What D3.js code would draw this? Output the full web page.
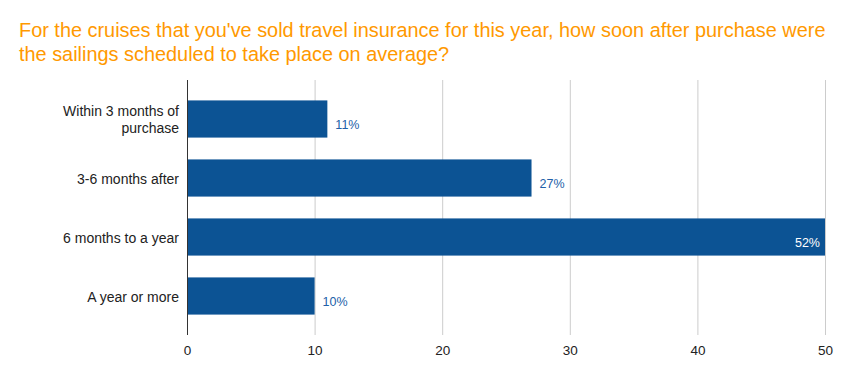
<!DOCTYPE html>
<html><head><meta charset="utf-8">
<script src="https://cdn.jsdelivr.net/npm/d3@7"></script>
<style>body{margin:0;background:#fff;} svg{display:block;font-family:"Liberation Sans",Arial,sans-serif;}</style>
</head><body>
<svg id="c" width="844" height="378"></svg>
<script>
const titleLines = ["For the cruises that you've sold travel insurance for this year, how soon after purchase were","the sailings scheduled to take place on average?"];
const categories = [["Within 3 months of","purchase"],["3-6 months after"],["6 months to a year"],["A year or more"]];
const values = [11, 27, 52, 10];
const xTicks = [0, 10, 20, 30, 40, 50];

(function(){
const svg = d3.select("#c");
const pl = 187, pr = 825, pt = 80, pb = 335;
const x = d3.scaleLinear().domain([0, 50]).range([pl, pr]);
const y = d3.scaleBand().domain(d3.range(categories.length)).range([pt, pb]).paddingInner(0.37).paddingOuter(0.346);

svg.append("g").selectAll("text").data(titleLines).join("text")
  .attr("x", 19).attr("y", (d,i)=>37 + i*24)
  .attr("fill", "#ff9900").attr("font-size", 19.9).text(d=>d);

svg.append("g").selectAll("line").data(xTicks.filter(t=>t>0)).join("line")
  .attr("x1", d=>x(d)+0.5).attr("x2", d=>x(d)+0.5).attr("y1", pt).attr("y2", pb)
  .attr("stroke", "#cccccc").attr("stroke-width", 1);

svg.append("g").selectAll("rect").data(values).join("rect")
  .attr("x", x(0)).attr("y", (d,i)=>y(i))
  .attr("width", d=>x(Math.min(d,50))-x(0)).attr("height", y.bandwidth())
  .attr("fill", "#0c5394");

svg.append("line").attr("x1", x(0)+0.5).attr("x2", x(0)+0.5).attr("y1", pt).attr("y2", pb)
  .attr("stroke", "#333").attr("stroke-width", 1);

svg.append("g").selectAll("text").data(values).join("text")
  .attr("x", d=> d>50 ? x(50)-5 : x(d)+8)
  .attr("y", (d,i)=>y(i)+y.bandwidth()/2+10)
  .attr("text-anchor", d=> d>50 ? "end" : "start")
  .attr("fill", d=> d>50 ? "#ffffff" : "#2160a8")
  .attr("font-size", 12.5).text(d=>d+"%");

const cg = svg.append("g");
categories.forEach((lines,i)=>{
  const cy = y(i)+y.bandwidth()/2;
  const n = lines.length;
  lines.forEach((ln,j)=>{
    cg.append("text").attr("x", 179).attr("y", cy + (j-(n-1)/2)*17 + 6)
      .attr("text-anchor","end").attr("fill","#222").attr("font-size",14).text(ln);
  });
});

const ax = svg.append("g").attr("transform",`translate(0,${pb})`).call(d3.axisBottom(x).tickValues(xTicks).tickSize(0).tickFormat(d3.format("d")));
ax.select(".domain").remove();
ax.selectAll("text").attr("font-size",13.5).attr("fill","#222").attr("y",0).attr("dy","1.5em").attr("font-family","Liberation Sans, Arial, sans-serif");
})();
</script>
</body></html>
